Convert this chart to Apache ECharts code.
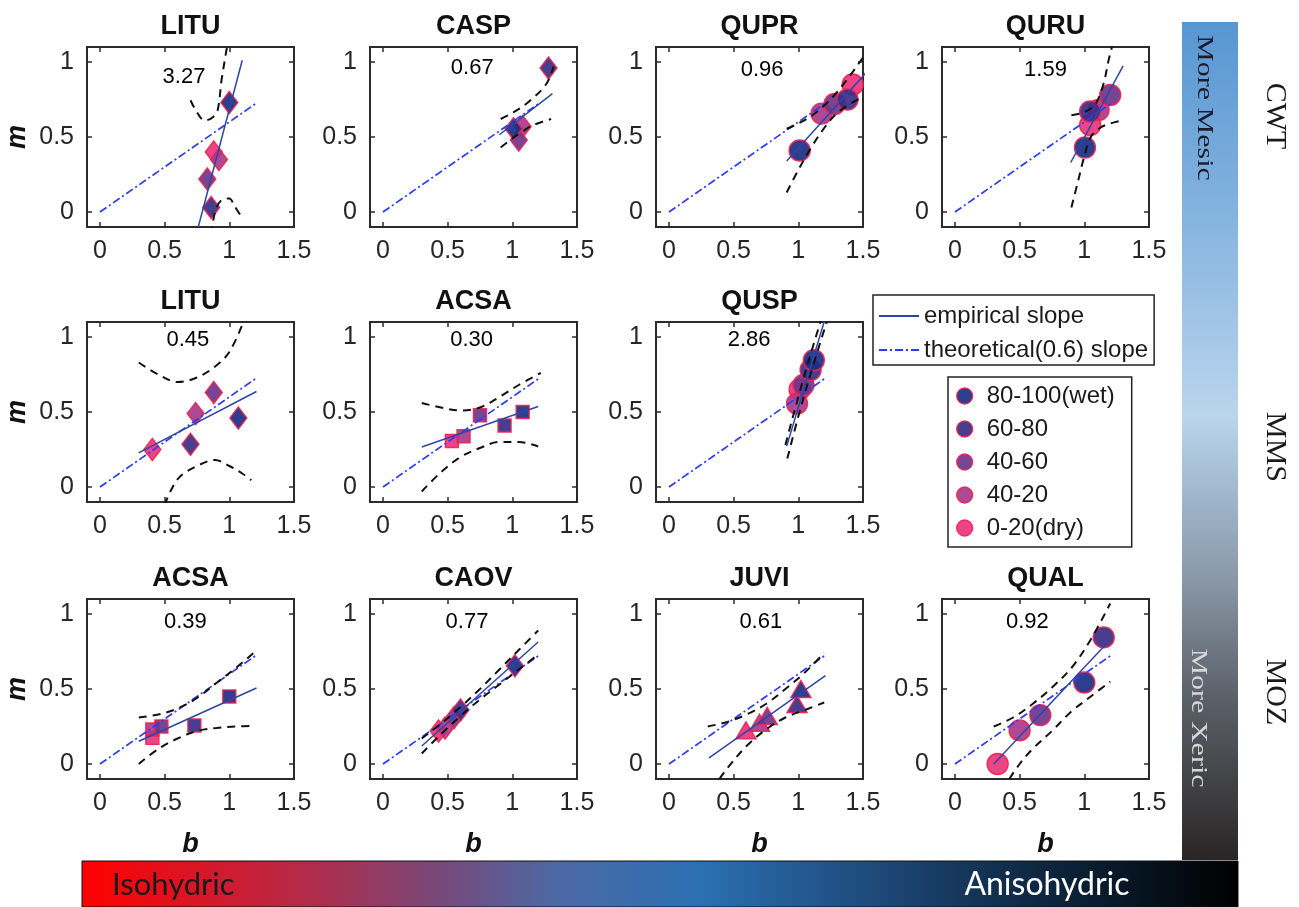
<!DOCTYPE html>
<html>
<head>
<meta charset="utf-8">
<script src="https://cdn.jsdelivr.net/npm/echarts@6/dist/echarts.min.js"></script>
<style>
  html, body { margin: 0; padding: 0; background: #fff; }
  #chart { width: 1299px; height: 907px; }
</style>
</head>
<body>
<div id="chart"></div>
<script>
// ---- data -------------------------------------------------------------
const SPECIES = ['LITU', 'CASP', 'QUPR', 'QURU', 'LITU', 'ACSA', 'QUSP', 'ACSA', 'CAOV', 'JUVI', 'QUAL'];
const CLASSES = ['80-100(wet)', '60-80', '40-60', '40-20', '0-20(dry)'];
const CLASS_COLORS = ['#1b2e84', '#3b2d86', '#6c358c', '#a8398b', '#e8357d'];
const MARKERS = ['diamond', 'diamond', 'circle', 'circle', 'diamond', 'rect', 'circle', 'rect', 'diamond', 'triangle', 'circle'];

// empirical slope of m on b, with intercept and fitted b range
const SLOPES = [3.27, 0.67, 0.96, 1.59, 0.45, 0.30, 2.86, 0.39, 0.77, 0.61, 0.92];
const INTERCEPTS = [-2.585, -0.088, -0.534, -1.093, 0.092, 0.177, -2.33, 0.035, -0.111, -0.149, -0.276];
const FIT_B = [[0.76, 1.10], [0.90, 1.31], [0.91, 1.52], [0.895, 1.30], [0.30, 1.21], [0.30, 1.20],
               [0.91, 1.21], [0.30, 1.21], [0.30, 1.20], [0.31, 1.21], [0.30, 1.16]];

// theoretical slope line
const THEORY_SLOPE = 0.6;
const THEORY_B = [0, 1.2];

// b and m per soil-moisture class (order of CLASSES), null when absent
const POINT_B = [
  [1.00, 0.86, 0.83, 0.92, 0.88],
  [1.01, 1.28, 1.05, 1.08, null],
  [1.01, 1.38, 1.28, 1.18, 1.42],
  [1.005, 1.045, 1.20, 1.11, 1.045],
  [1.07, 0.70, 0.88, 0.74, 0.405],
  [1.08, 0.94, 0.75, 0.623, 0.533],
  [1.12, 1.095, 1.04, 0.99, 1.01],
  [1.00, 0.73, 0.475, 0.405, 0.405],
  [1.02, 0.60, 0.55, 0.48, 0.43],
  [1.02, 0.99, 0.76, 0.70, 0.595],
  [1.00, 1.15, 0.66, 0.50, 0.33]
];
const POINT_M = [
  [0.73, 0.03, 0.22, 0.35, 0.40],
  [0.555, 0.96, 0.48, 0.57, null],
  [0.41, 0.75, 0.72, 0.656, 0.85],
  [0.43, 0.67, 0.78, 0.68, 0.58],
  [0.46, 0.285, 0.63, 0.49, 0.25],
  [0.50, 0.41, 0.478, 0.338, 0.307],
  [0.845, 0.78, 0.68, 0.556, 0.65],
  [0.45, 0.257, 0.25, 0.23, 0.174],
  [0.655, 0.36, 0.31, 0.24, 0.22],
  [0.50, 0.40, 0.32, 0.275, 0.224],
  [0.543, 0.844, 0.326, 0.224, 0.0]
];

// confidence band of the fit (upper and lower)
const UPPER_B = [
  [0.70, 0.74, 0.81, 0.87, 0.91, 0.94, 0.98, 1.00],
  [0.91, 1.00, 1.12, 1.26, 1.32],
  [0.91, 1.00, 1.10, 1.20, 1.30, 1.40, 1.50],
  [0.90, 0.98, 1.05, 1.10, 1.15, 1.19, 1.22],
  [0.30, 0.45, 0.60, 0.75, 0.90, 1.00, 1.10],
  [0.30, 0.45, 0.60, 0.75, 0.90, 1.05, 1.22],
  [0.90, 1.00, 1.10, 1.20],
  [0.30, 0.45, 0.60, 0.75, 0.90, 1.05, 1.20],
  [0.30, 0.45, 0.60, 0.75, 0.90, 1.05, 1.20],
  [0.30, 0.45, 0.60, 0.75, 0.90, 1.05, 1.20],
  [0.30, 0.45, 0.60, 0.75, 0.90, 1.05, 1.20]
];
const UPPER_M = [
  [0.745, 0.68, 0.61, 0.63, 0.68, 0.88, 1.09, 1.20],
  [0.62, 0.66, 0.73, 0.85, 0.97],
  [0.555, 0.59, 0.64, 0.71, 0.80, 0.91, 1.03],
  [0.645, 0.66, 0.69, 0.74, 0.86, 1.02, 1.12],
  [0.83, 0.75, 0.70, 0.73, 0.81, 0.90, 1.08],
  [0.56, 0.53, 0.51, 0.53, 0.60, 0.68, 0.76],
  [0.28, 0.60, 0.90, 1.18],
  [0.31, 0.33, 0.37, 0.44, 0.54, 0.64, 0.75],
  [0.17, 0.27, 0.38, 0.50, 0.63, 0.76, 0.89],
  [0.25, 0.28, 0.33, 0.40, 0.50, 0.61, 0.74],
  [0.25, 0.31, 0.40, 0.51, 0.64, 0.83, 1.07]
];
const LOWER_B = [
  [0.86, 0.89, 0.94, 1.00, 1.04, 1.10],
  [0.91, 1.00, 1.07, 1.15, 1.30],
  [0.91, 1.00, 1.10, 1.20, 1.30, 1.40, 1.50],
  [0.90, 0.95, 1.00, 1.05, 1.12, 1.20, 1.29],
  [0.50, 0.55, 0.62, 0.75, 0.89, 1.00, 1.10, 1.17],
  [0.30, 0.45, 0.60, 0.75, 0.90, 1.05, 1.20],
  [0.915, 1.00, 1.10, 1.22],
  [0.30, 0.45, 0.60, 0.75, 0.90, 1.05, 1.20],
  [0.30, 0.45, 0.60, 0.75, 0.90, 1.05, 1.20],
  [0.39, 0.45, 0.60, 0.75, 0.90, 1.05, 1.20],
  [0.42, 0.50, 0.60, 0.75, 0.90, 1.05, 1.20]
];
const LOWER_M = [
  [-0.15, 0.0, 0.08, 0.09, 0.04, -0.04],
  [0.43, 0.49, 0.53, 0.575, 0.62],
  [0.13, 0.28, 0.43, 0.56, 0.66, 0.72, 0.77],
  [0.03, 0.20, 0.37, 0.50, 0.56, 0.59, 0.61],
  [-0.12, -0.02, 0.07, 0.14, 0.18, 0.14, 0.09, 0.045],
  [-0.03, 0.10, 0.20, 0.26, 0.30, 0.30, 0.27],
  [0.19, 0.47, 0.77, 1.10],
  [0.0, 0.10, 0.17, 0.22, 0.24, 0.25, 0.255],
  [0.07, 0.20, 0.32, 0.43, 0.53, 0.63, 0.73],
  [-0.10, -0.03, 0.12, 0.23, 0.31, 0.36, 0.41],
  [-0.10, 0.0, 0.10, 0.22, 0.35, 0.45, 0.55]
];

const X_TICKS = [0, 0.5, 1, 1.5];
const Y_TICKS = [0, 0.5, 1];

// ---- layout -----------------------------------------------------------
const PANEL_CELL = [[0, 0], [0, 1], [0, 2], [0, 3], [1, 0], [1, 1], [1, 2], [2, 0], [2, 1], [2, 2], [2, 3]];
const COL_LEFT = [87, 370, 656, 942];
const ROW_TOP = [47, 322, 599];
const PLOT_W = 207, PLOT_H = 180;
const NOTE_AT = [[0.65, 0.90], [0.69, 0.96], [0.72, 0.95], [0.70, 0.95], [0.68, 0.98], [0.685, 0.98],
                 [0.62, 0.98], [0.66, 0.945], [0.65, 0.945], [0.71, 0.945], [0.56, 0.945]];
const MARKER_SIZE = { diamond: [17, 22], rect: 13, circle: 21, triangle: [20, 17] };

const FONT = '"Liberation Sans", Arial, Helvetica, sans-serif';
const SERIF = '"Liberation Serif", "Times New Roman", serif';
const INK = '#262626';
const EDGE = '#f0224e';

const grids = [], xAxes = [], yAxes = [], series = [], titles = [];

SPECIES.forEach((sp, i) => {
  const [r, c] = PANEL_CELL[i];
  const left = COL_LEFT[c], top = ROW_TOP[r];
  grids.push({ left, top, width: PLOT_W, height: PLOT_H, show: true,
    backgroundColor: '#fff', borderColor: '#2b2b2b', borderWidth: 2 });
  titles.push({ text: sp, left: left + PLOT_W / 2, top: top - 34, textAlign: 'center', padding: 0,
    textStyle: { fontSize: 27, fontWeight: 'bold', color: '#111', fontFamily: FONT } });

  const tick = { inside: true, length: 5, lineStyle: { color: '#2b2b2b', width: 1.5 } };
  const nameStyle = { fontSize: 27, fontWeight: 'bold', fontStyle: 'italic', color: '#111', fontFamily: FONT };

  xAxes.push({ gridIndex: i, type: 'value', min: -0.1, max: 1.5, position: 'bottom',
    axisLine: { show: false, onZero: false },
    axisTick: Object.assign({ customValues: X_TICKS }, tick),
    axisLabel: { customValues: X_TICKS, fontSize: 25, color: INK, margin: 12, fontFamily: FONT },
    splitLine: { show: false },
    name: r === 2 ? 'b' : '', nameLocation: 'middle', nameGap: 52, nameTextStyle: nameStyle });
  xAxes.push({ gridIndex: i, type: 'value', min: -0.1, max: 1.5, position: 'top',
    axisLine: { show: false, onZero: false },
    axisTick: Object.assign({ customValues: X_TICKS }, tick),
    axisLabel: { show: false, customValues: X_TICKS }, splitLine: { show: false } });
  yAxes.push({ gridIndex: i, type: 'value', min: -0.1, max: 1.1, position: 'left',
    axisLine: { show: false, onZero: false },
    axisTick: Object.assign({ customValues: Y_TICKS }, tick),
    axisLabel: { customValues: Y_TICKS, fontSize: 25, color: INK, margin: 13, fontFamily: FONT },
    splitLine: { show: false },
    name: c === 0 ? 'm' : '', nameLocation: 'middle', nameGap: 56, nameRotate: 90, nameTextStyle: nameStyle });
  yAxes.push({ gridIndex: i, type: 'value', min: -0.1, max: 1.1, position: 'right',
    axisLine: { show: false, onZero: false },
    axisTick: Object.assign({ customValues: Y_TICKS }, tick),
    axisLabel: { show: false, customValues: Y_TICKS }, splitLine: { show: false } });

  const ax = { xAxisIndex: 2 * i, yAxisIndex: 2 * i };

  // observations, dry classes underneath
  for (let k = CLASSES.length - 1; k >= 0; k--) {
    const b = POINT_B[i][k], m = POINT_M[i][k];
    series.push(Object.assign({
      type: 'scatter', name: CLASSES[k], z: 2, silent: true,
      symbol: MARKERS[i], symbolSize: MARKER_SIZE[MARKERS[i]],
      data: b === null ? [] : [[b, m]],
      itemStyle: { color: CLASS_COLORS[k], borderColor: EDGE, borderWidth: 1.4, opacity: 0.92 }
    }, ax));
  }

  // confidence band
  [[UPPER_B[i], UPPER_M[i]], [LOWER_B[i], LOWER_M[i]]].forEach(([bs, ms]) => {
    series.push(Object.assign({
      type: 'line', z: 4, silent: true, symbol: 'none', smooth: 0.35,
      data: bs.map((b, j) => [b, ms[j]]),
      lineStyle: { color: '#111', width: 2, type: [8, 6] }
    }, ax));
  });

  // theoretical line
  series.push(Object.assign({
    type: 'line', name: 'theoretical(0.6) slope', z: 3, silent: true, symbol: 'none',
    data: THEORY_B.map(b => [b, THEORY_SLOPE * b]),
    itemStyle: { color: '#2b3cf2' },
    lineStyle: { color: '#2b3cf2', width: 1.7, type: [8, 3, 2, 3] }
  }, ax));

  // empirical fit
  series.push(Object.assign({
    type: 'line', name: 'empirical slope', z: 3, silent: true, symbol: 'none',
    data: FIT_B[i].map(b => [b, INTERCEPTS[i] + SLOPES[i] * b]),
    itemStyle: { color: '#2d46a3' },
    lineStyle: { color: '#2d46a3', width: 1.5 }
  }, ax));

  // slope annotation
  series.push(Object.assign({
    type: 'scatter', z: 5, silent: true, symbolSize: 1,
    data: [NOTE_AT[i]],
    itemStyle: { color: 'rgba(0,0,0,0)' },
    label: { show: true, position: 'inside', formatter: SLOPES[i].toFixed(2), opacity: 1,
      fontSize: 22, color: '#000', fontFamily: FONT }
  }, ax));
});

const lineKeyStyle = { color: 'rgba(0,0,0,0)', borderWidth: 0, opacity: 0 };
const legends = [
  { data: [{ name: 'empirical slope', itemStyle: lineKeyStyle },
           { name: 'theoretical(0.6) slope', itemStyle: lineKeyStyle }],
    orient: 'vertical', left: 873, top: 295,
    itemWidth: 40, itemHeight: 14, itemGap: 10, padding: [9, 6, 3, 5], selectedMode: false,
    borderColor: '#222', borderWidth: 1.5, backgroundColor: '#fff',
    textStyle: { fontSize: 24, color: '#1a1a1a', fontFamily: FONT } },
  { data: CLASSES.map((n, k) => ({ name: n, icon: 'circle',
      itemStyle: { color: CLASS_COLORS[k], borderColor: EDGE, borderWidth: 1.3 } })),
    orient: 'vertical', left: 948, top: 377,
    itemWidth: 34, itemHeight: 16, itemGap: 9, padding: [7, 17, 7, 8], selectedMode: false,
    borderColor: '#222', borderWidth: 1.5, backgroundColor: '#fff',
    textStyle: { fontSize: 24, color: '#1a1a1a', fontFamily: FONT } }
];

function sideText(text, x, y, size, fill, stretch) {
  return { type: 'text', x, y, rotation: -Math.PI / 2, scaleX: stretch, z: 10, silent: true,
    style: { text, fill, fontSize: size, fontFamily: SERIF,
      align: 'center', verticalAlign: 'middle', textAlign: 'center', textVerticalAlign: 'middle' } };
}

const graphics = [
  { type: 'rect', z: 1, silent: true, shape: { x: 1182, y: 22, width: 56, height: 838 },
    style: { fill: new echarts.graphic.LinearGradient(0, 0, 0, 1, [
      { offset: 0, color: '#5796d2' }, { offset: 0.22, color: '#82b2de' },
      { offset: 0.47, color: '#bad5ed' }, { offset: 0.58, color: '#9cb2c6' },
      { offset: 0.66, color: '#8b9aaa' }, { offset: 0.8, color: '#5d636b' },
      { offset: 1, color: '#2a2626' }]) } },
  { type: 'rect', z: 1, silent: true, shape: { x: 82, y: 861, width: 1156, height: 46 },
    style: { stroke: '#111', lineWidth: 1, fill: new echarts.graphic.LinearGradient(0, 0, 1, 0, [
      { offset: 0, color: '#ff0000' }, { offset: 0.19, color: '#b52a48' },
      { offset: 0.30, color: '#7c4676' }, { offset: 0.41, color: '#4d68a5' },
      { offset: 0.535, color: '#2b70b2' }, { offset: 0.68, color: '#1f4b7c' },
      { offset: 0.79, color: '#11304f' }, { offset: 1, color: '#000000' }]) } },
  { type: 'text', x: 112, y: 885, z: 10, silent: true,
    style: { text: 'Isohydric', fill: '#1a1a1a', fontSize: 31, fontFamily: 'Lato, "Open Sans", sans-serif',
      align: 'left', verticalAlign: 'middle', textAlign: 'left', textVerticalAlign: 'middle' } },
  { type: 'text', x: 1047, y: 885, z: 10, silent: true,
    style: { text: 'Anisohydric', fill: '#ffffff', fontSize: 32, fontFamily: 'Lato, "Open Sans", sans-serif',
      align: 'center', verticalAlign: 'middle', textAlign: 'center', textVerticalAlign: 'middle' } },
  sideText('More Mesic', 1204, 108, 24, '#1c1c2c', 1.25),
  sideText('More Xeric', 1198, 718, 24, '#d6d6d6', 1.25),
  sideText('CWT', 1275, 116, 30, '#1a1a1a', 1),
  sideText('MMS', 1275, 447, 30, '#1a1a1a', 1),
  sideText('MOZ', 1275, 692, 30, '#1a1a1a', 1)
];

const chart = echarts.init(document.getElementById('chart'), null, { renderer: 'canvas' });
chart.setOption({
  animation: false,
  backgroundColor: '#fff',
  title: titles,
  grid: grids,
  xAxis: xAxes,
  yAxis: yAxes,
  legend: legends,
  series,
  graphic: graphics
});
</script>
</body>
</html>
